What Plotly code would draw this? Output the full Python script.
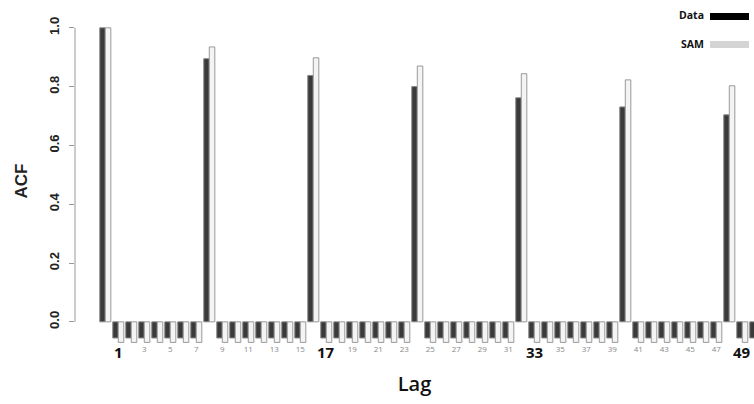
import plotly.graph_objects as go

lags = list(range(0, 51))
data_acf = [1.000, -0.055, -0.055, -0.055, -0.055, -0.055, -0.055, -0.055,
            0.895, -0.055, -0.055, -0.055, -0.055, -0.055, -0.055, -0.055,
            0.838, -0.055, -0.055, -0.055, -0.055, -0.055, -0.055, -0.055,
            0.800, -0.055, -0.055, -0.055, -0.055, -0.055, -0.055, -0.055,
            0.762, -0.055, -0.055, -0.055, -0.055, -0.055, -0.055, -0.055,
            0.731, -0.055, -0.055, -0.055, -0.055, -0.055, -0.055, -0.055,
            0.704, -0.055, -0.055]
sam_acf = [1.000, -0.070, -0.070, -0.070, -0.070, -0.070, -0.070, -0.070,
           0.935, -0.070, -0.070, -0.070, -0.070, -0.070, -0.070, -0.070,
           0.898, -0.070, -0.070, -0.070, -0.070, -0.070, -0.070, -0.070,
           0.870, -0.070, -0.070, -0.070, -0.070, -0.070, -0.070, -0.070,
           0.844, -0.070, -0.070, -0.070, -0.070, -0.070, -0.070, -0.070,
           0.823, -0.070, -0.070, -0.070, -0.070, -0.070, -0.070, -0.070,
           0.803, -0.070, -0.070]
tick_lags = list(range(1, 50, 2))
big_ticks = [1, 17, 33, 49]
y_ticks = [0.0, 0.2, 0.4, 0.6, 0.8, 1.0]
y_tick_text = ["0.0", "0.2", "0.4", "0.6", "0.8", "1.0"]

tick_text = ["" if v in big_ticks else str(v) for v in tick_lags]

fig = go.Figure()
fig.add_trace(go.Bar(x=lags, y=data_acf, name="Data",
                     marker=dict(color="#3a3a3a", line=dict(color="#888888", width=1))))
fig.add_trace(go.Bar(x=lags, y=sam_acf, name="SAM",
                     marker=dict(color="#f4f4f4", line=dict(color="#999999", width=1))))

fig.update_layout(
    width=754, height=404,
    margin=dict(l=75, r=0, t=19, b=61, autoexpand=False),
    paper_bgcolor="white", plot_bgcolor="white",
    barmode="group", bargap=0.15, bargroupgap=0.0,
    showlegend=False,
    font=dict(family="Open Sans, Arial", color="#222"),
)
fig.update_xaxes(
    automargin=False,
    range=[-2.33, 49.9], showgrid=False, zeroline=False, showline=False,
    tickmode="array", tickvals=tick_lags, ticktext=tick_text,
    tickfont=dict(size=8, color="#888888", family="Open Sans, Arial"),
    ticks="", ticklen=0,
    title=dict(text="Lag", font=dict(size=20, color="#111", family="Open Sans", weight=600), standoff=23),
)
fig.update_yaxes(
    automargin=False,
    range=[-0.072, 1.03], showgrid=False, zeroline=False, showline=False,
    tickmode="array", tickvals=y_ticks, ticktext=[f"<b>{t}</b>" for t in y_tick_text],
    tickangle=-90,
    tickfont=dict(size=13, color="#222", family="Arial"),
    ticks="outside", ticklen=5, tickcolor="#999999", ticklabelstandoff=5,
    title=dict(text="<b>ACF</b>", font=dict(size=17, color="#222", family="Arial"), standoff=14),
)
# big bold lag labels
for v in big_ticks:
    fig.add_annotation(x=v, xref="x", yref="paper", y=(343 - 352) / 324,
                       text=f"<b>{v}</b>", showarrow=False, xanchor="center", yanchor="middle",
                       font=dict(size=15, color="#111", family="Open Sans, Arial"))

# y-axis line spanning 0..1
fig.add_shape(type="line", xref="paper", yref="y", x0=0, x1=0, y0=y_ticks[0], y1=y_ticks[-1],
              line=dict(color="#999999", width=1))

# legend
fig.add_annotation(xref="paper", yref="paper", x=(706 - 75) / 679, y=(404 - 61 - 15) / 324,
                   text="<b>Data</b>", showarrow=False, xanchor="right", yanchor="middle",
                   font=dict(size=10.5, color="#111", family="Open Sans, Arial"))
fig.add_annotation(xref="paper", yref="paper", x=(706 - 75) / 679, y=(404 - 61 - 44) / 324,
                   text="<b>SAM</b>", showarrow=False, xanchor="right", yanchor="middle",
                   font=dict(size=10.5, color="#111", family="Open Sans, Arial"))
fig.add_shape(type="rect", xref="paper", yref="paper",
              x0=(710 - 75) / 679, x1=(749 - 75) / 679,
              y0=(404 - 61 - 20) / 324, y1=(404 - 61 - 13) / 324,
              fillcolor="#000000", line=dict(width=0))
fig.add_shape(type="rect", xref="paper", yref="paper",
              x0=(710 - 75) / 679, x1=(749 - 75) / 679,
              y0=(404 - 61 - 48) / 324, y1=(404 - 61 - 41) / 324,
              fillcolor="#d4d4d4", line=dict(width=0))

fig.write_html("out.html", config={"displayModeBar": False},
               post_script="document.body.style.margin='0';document.body.style.padding='0';document.body.style.overflow='hidden';")
